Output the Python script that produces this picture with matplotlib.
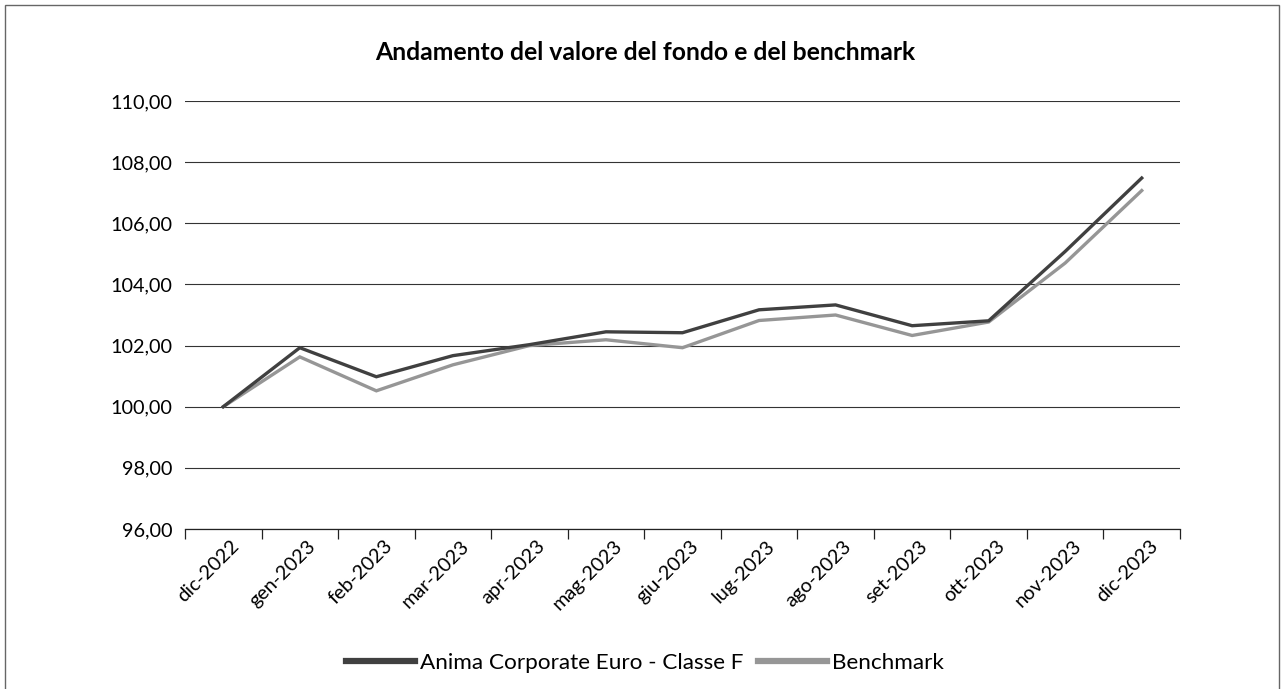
import matplotlib
matplotlib.use("Agg")
import matplotlib.pyplot as plt
from matplotlib.patches import Rectangle
from matplotlib.ticker import FixedLocator, FuncFormatter
from matplotlib.transforms import ScaledTranslation

categories = ["dic-2022", "gen-2023", "feb-2023", "mar-2023", "apr-2023", "mag-2023",
              "giu-2023", "lug-2023", "ago-2023", "set-2023", "ott-2023", "nov-2023", "dic-2023"]
fund = [100.00, 101.93, 100.98, 101.67, 102.03, 102.45, 102.42, 103.17, 103.33, 102.65, 102.81, 105.08, 107.48]
bench = [100.00, 101.63, 100.52, 101.37, 102.00, 102.19, 101.93, 102.82, 103.00, 102.33, 102.77, 104.70, 107.07]
fund_name = "Anima Corporate Euro - Classe F"
bench_name = "Benchmark"
title = "Andamento del valore del fondo e del benchmark"
yticks = [96, 98, 100, 102, 104, 106, 108, 110]

plt.rcParams['font.family'] = ['Lato', 'DejaVu Sans']

fig = plt.figure(figsize=(12.86, 6.89), dpi=100)
ax = fig.add_axes([185/1286, 1-529/689, (1180-185)/1286, (529-101)/689])

x = list(range(len(categories)))
ax.plot(x, fund, color="#404040", lw=2.4, label=fund_name, solid_joinstyle='miter', zorder=4)
ax.plot(x, bench, color="#969696", lw=2.4, label=bench_name, solid_joinstyle='miter', zorder=3)

ax.set_xlim(-0.5, len(categories) - 0.5)
ax.set_ylim(96, 110)
ax.yaxis.set_major_locator(FixedLocator(yticks))
ax.yaxis.set_major_formatter(FuncFormatter(lambda v, p: f"{v:.2f}".replace(".", ",")))
ax.grid(axis='y', color="#333333", lw=0.8)
ax.set_axisbelow(True)
for s in ['left', 'right', 'top']:
    ax.spines[s].set_visible(False)
ax.spines['bottom'].set_color("#222222")
ax.spines['bottom'].set_linewidth(0.9)
ax.tick_params(axis='y', length=0, pad=9, labelsize=14.3, colors="#000000")

ax.set_xticks(x)
ax.set_xticklabels(categories, rotation=45, ha='right', rotation_mode='anchor', fontsize=14.3)
ax.set_xticks([i - 0.5 for i in range(len(categories) + 1)], minor=True)
ax.tick_params(axis='x', which='major', length=0, pad=6)
ax.tick_params(axis='x', which='minor', length=7, width=0.9, color="#222222")
for lab in ax.get_xticklabels():
    lab.set_transform(lab.get_transform() + ScaledTranslation(7/100, 0, fig.dpi_scale_trans))

fig.text(645/1286, 1-53/689, title, ha='center', va='center', fontsize=17.8, fontweight='bold')

leg = fig.legend(loc='center', bbox_to_anchor=(645/1286, 1-663/689), ncol=2, frameon=False,
                 fontsize=16.2, handlelength=3.1, handletextpad=0.22, columnspacing=0.62,
                 borderaxespad=0, borderpad=0)
for h in leg.get_lines():
    h.set_linewidth(4.5)

fig.patches.append(Rectangle((5/1286, -0.1), (1279-5)/1286, 1.1 - 5/689, transform=fig.transFigure,
                             fill=False, edgecolor="#666666", lw=1.0))

fig.savefig("out.png", dpi=100)
